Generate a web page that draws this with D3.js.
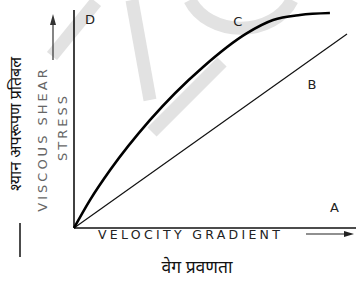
<!DOCTYPE html>
<html>
<head>
<meta charset="utf-8">
<script src="https://cdn.jsdelivr.net/npm/d3@7"></script>
<style>
  body { margin: 0; background: #fff; }
  svg { display: block; font-family: "DejaVu Sans", sans-serif; }
</style>
</head>
<body>
<div id="chart"></div>
<script>
// curve C (thick) - velocity gradient vs shear stress
const curveX = [0, 0.57, 1.29, 2.71, 4.61, 6.18, 7.11, 8.07, 9.14];
const curveY = [0, 1.28, 2.66, 4.95, 7.39, 8.94, 9.54, 9.77, 9.86];
// line B (newtonian)
const lineX = [0, 9.75];
const lineY = [0, 8.9];
// curve labels
const labelNames = ['A', 'B', 'C', 'D'];
const labelX = [9.3, 8.5, 5.85, 0.57];
const labelY = [0.95, 6.6, 9.45, 9.55];

const W = 356, H = 282;
const svg = d3.select('#chart').append('svg').attr('width', W).attr('height', H);

const x = d3.scaleLinear().domain([0, 10]).range([74, 354]);
const y = d3.scaleLinear().domain([0, 10]).range([228, 10]);

// faint watermark behind
const wm = svg.append('g').attr('fill', 'none').attr('stroke', '#e2e2e2').attr('stroke-width', 13);
wm.append('path').attr('d', 'M52,56 L96,2');
wm.append('path').attr('d', 'M132,0 L150,100');
wm.append('path').attr('d', 'M222,62 L152,132');
wm.append('path').attr('d', 'M190,0 A55,45 0 0 0 292,0');

// axes (no ticks)
svg.append('line').attr('x1', x(0)).attr('x2', x(0)).attr('y1', y(10)).attr('y2', y(0))
  .attr('stroke', '#111').attr('stroke-width', 1.6);
svg.append('line').attr('x1', x(0)).attr('x2', W).attr('y1', y(0)).attr('y2', y(0))
  .attr('stroke', '#111').attr('stroke-width', 1.6);

const line = d3.line().x(d => x(d[0])).y(d => y(d[1]));

svg.append('path').datum(lineX.map((v, i) => [v, lineY[i]]))
  .attr('d', line).attr('fill', 'none').attr('stroke', '#111').attr('stroke-width', 1.2);

svg.append('path').datum(curveX.map((v, i) => [v, curveY[i]]))
  .attr('d', line.curve(d3.curveMonotoneX)).attr('fill', 'none')
  .attr('stroke', '#000').attr('stroke-width', 2.6);

svg.selectAll('.lbl').data(labelNames).enter().append('text')
  .attr('class', 'lbl')
  .attr('x', (d, i) => x(labelX[i])).attr('y', (d, i) => y(labelY[i]))
  .attr('text-anchor', 'middle').attr('dominant-baseline', 'central')
  .attr('font-size', 13).attr('fill', '#222').text(d => d);

// x axis title
svg.append('text').attr('x', 98).attr('y', 239)
  .attr('font-size', 12.5).attr('letter-spacing', 3.3).attr('fill', '#222')
  .text('VELOCITY GRADIENT');
svg.append('line').attr('x1', 306).attr('x2', 348).attr('y1', 234).attr('y2', 234)
  .attr('stroke', '#222').attr('stroke-width', 1.2);
svg.append('path').attr('d', 'M354,234 L344,231 L344,237 Z').attr('fill', '#222');

svg.append('text').attr('x', 197).attr('y', 273).attr('text-anchor', 'middle')
  .attr('font-family', '"Noto Sans", sans-serif').attr('font-size', 17.5).attr('fill', '#111')
  .text('वेग प्रवणता');

// y axis title
svg.append('text').attr('transform', 'translate(47,139) rotate(-90)')
  .attr('text-anchor', 'middle')
  .attr('font-size', 13).attr('letter-spacing', 3).attr('fill', '#666')
  .text('VISCOUS SHEAR');
svg.append('text').attr('transform', 'translate(67,127) rotate(-90)')
  .attr('text-anchor', 'middle')
  .attr('font-size', 13).attr('letter-spacing', 3).attr('fill', '#666')
  .text('STRESS');
svg.append('line').attr('x1', 53).attr('x2', 53).attr('y1', 60).attr('y2', 22)
  .attr('stroke', '#333').attr('stroke-width', 1.2);
svg.append('path').attr('d', 'M53,14 L50,25 L56,25 Z').attr('fill', '#333');

svg.append('text').attr('transform', 'translate(21,124) rotate(-90)')
  .attr('text-anchor', 'middle')
  .attr('font-family', '"Noto Sans", sans-serif').attr('font-size', 16).attr('fill', '#111')
  .text('श्यान अपरूपण प्रतिबल');
svg.append('line').attr('x1', 20).attr('x2', 20).attr('y1', 223).attr('y2', 257)
  .attr('stroke', '#111').attr('stroke-width', 1.5);
</script>
</body>
</html>
